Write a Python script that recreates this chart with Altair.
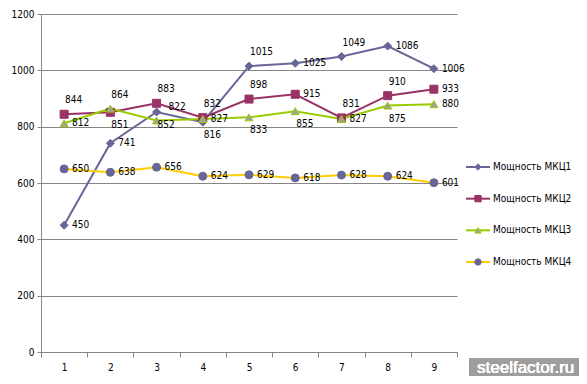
import altair as alt
import pandas as pd

x_labels = ["1", "2", "3", "4", "5", "6", "7", "8", "9"]
series_names = ["Мощность МКЦ1", "Мощность МКЦ2", "Мощность МКЦ3", "Мощность МКЦ4"]
mkc1 = [450, 741, 852, 816, 1015, 1025, 1049, 1086, 1006]
mkc2 = [844, 851, 883, 832, 898, 915, 831, 910, 933]
mkc3 = [812, 864, 822, 827, 833, 855, 827, 875, 880]
mkc4 = [650, 638, 656, 624, 629, 618, 628, 624, 601]
# label placement codes: r = right, a = above, b = below, ar = above-right
pos1 = ["r", "r", "b", "b", "a", "r", "a", "r", "r"]
pos2 = ["a", "b", "a", "a", "a", "r", "a", "a", "r"]
pos3 = ["r", "a", "ar", "r", "b", "b", "r", "b", "r"]
pos4 = ["r", "r", "r", "r", "r", "r", "r", "r", "r"]

line_colors = ["#666699", "#993366", "#99CC00", "#FFCC00"]
marker_fill = ["#666699", "#993366", "#A0A0A0", "#666699"]
marker_stroke = ["#666699", "#993366", "#99CC00", "#666699"]
marker_shapes = ["diamond", "square", "triangle-up", "circle"]

rows = []
for name, vals, pos in zip(series_names, [mkc1, mkc2, mkc3, mkc4], [pos1, pos2, pos3, pos4]):
    for xl, v, p in zip(x_labels, vals, pos):
        rows.append({"x": xl, "series": name, "series2": name, "value": v, "pos": p})
df = pd.DataFrame(rows)
legend_df = pd.DataFrame({"series": series_names, "series2": series_names})

FONT = "DejaVu Sans Condensed, DejaVu Sans, sans-serif"
GRID = "#868686"

x_enc = alt.X(
    "x:O", sort=x_labels, bandPosition=0.5,
    scale=alt.Scale(type="band", paddingInner=0, paddingOuter=0),
    axis=alt.Axis(title=None, labelAngle=0, tickBand="extent", tickSize=5,
                  tickColor=GRID, domainColor=GRID, labelFont=FONT, labelFontSize=10,
                  labelColor="#000000", labelPadding=5, grid=False),
)
y_enc = alt.Y(
    "value:Q",
    scale=alt.Scale(domain=[0, 1200], nice=False),
    axis=alt.Axis(title=None, values=[0, 200, 400, 600, 800, 1000, 1200], grid=True, format="d",
                  gridColor=GRID, domainColor=GRID, tickColor=GRID, tickSize=4,
                  labelFont=FONT, labelFontSize=10, labelColor="#000000", labelPadding=3),
)

color_enc = alt.Color("series:N", scale=alt.Scale(range=line_colors), legend=None)
fill_enc = alt.Fill("series2:N", scale=alt.Scale(range=marker_fill), legend=None)
stroke_enc = alt.Stroke("series2:N", scale=alt.Scale(range=marker_stroke), legend=None)
shape_enc = alt.Shape("series2:N", scale=alt.Scale(range=marker_shapes), legend=None)

base = alt.Chart(df)

lines = base.mark_line(strokeWidth=2).encode(x=x_enc, y=y_enc, color=color_enc, detail="series:N")

points = base.mark_point(filled=True, size=64, strokeWidth=1, opacity=1).encode(
    x=x_enc, y=y_enc, fill=fill_enc, stroke=stroke_enc, shape=shape_enc,
)

offsets = {"r": (8, 0), "a": (1, -14), "b": (1, 13), "ar": (12, -13)}
label_layers = []
for code, (dx, dy) in offsets.items():
    label_layers.append(
        base.transform_filter(alt.datum.pos == code)
        .mark_text(align="left", baseline="middle", dx=dx, dy=dy, font=FONT,
                   fontSize=10, color="#000000")
        .encode(x=x_enc, y=y_enc, text="value:Q")
    )

main = alt.layer(lines, points, *label_layers)

# legend (drawn as marks, laid out with its own point scale)
leg_y = alt.Y("series:N", sort=series_names, axis=None,
              scale=alt.Scale(type="point", domain=series_names, range=[153, 248], padding=0))
lbase = alt.Chart(legend_df)
leg_line = lbase.mark_rule(strokeWidth=2).encode(
    x=alt.value(425), x2=alt.value(449), y=leg_y, color=color_enc)
leg_mark = lbase.mark_point(filled=True, size=40, strokeWidth=1, opacity=1).encode(
    x=alt.value(437), y=leg_y, fill=fill_enc, stroke=stroke_enc, shape=shape_enc)
leg_text = lbase.mark_text(align="left", baseline="middle", font=FONT, fontSize=10,
                           color="#000000").encode(
    x=alt.value(452), y=leg_y, text="series:N")
legend = alt.layer(leg_line, leg_mark, leg_text)

wm_box = lbase.mark_rect(color="#9E9E9E").encode(
    x=alt.value(428), x2=alt.value(538), y=alt.value(344), y2=alt.value(362)
)
wm_text = lbase.mark_text(text="steelfactor.ru", font="Liberation Sans, Arial, sans-serif",
                          fontSize=17, color="#FFFFFF", align="left", baseline="alphabetic").encode(
    x=alt.value(436), y=alt.value(359)
)
wm = alt.layer(wm_box, wm_text)

chart = alt.layer(main, legend, wm).resolve_scale(y="independent").properties(
    width=416, height=338,
    autosize=alt.AutoSizeParams(type="none"),
    padding={"left": 33, "top": 6, "right": 122, "bottom": 24},
).configure_view(strokeWidth=0)

chart.save("out.html", embed_options={"renderer": "svg", "actions": False})
